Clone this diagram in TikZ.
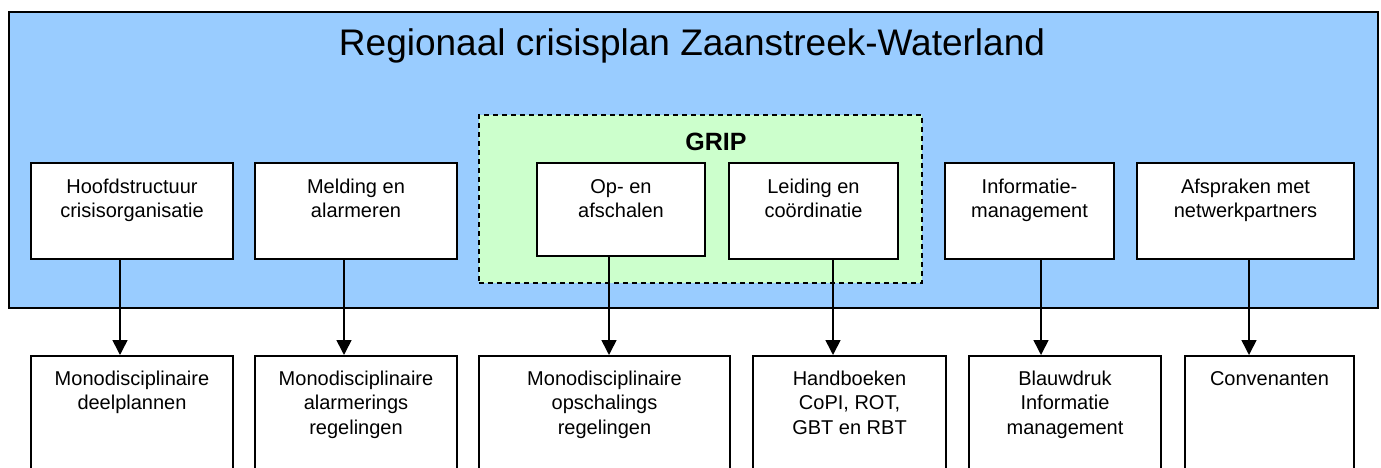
\documentclass[tikz,border=0pt]{standalone}
\usepackage{fontspec}
\setmainfont{Liberation Sans}
\usetikzlibrary{arrows.meta,calc}
\definecolor{planblue}{RGB}{153,204,255}
\definecolor{gripgreen}{RGB}{204,255,204}
\begin{document}
\begin{tikzpicture}[x=1pt,y=-1pt,
  box/.style={draw=black,line width=2pt,fill=white,rectangle,inner sep=0pt,anchor=north west},
  txt/.style={align=center,font=\fontsize{20}{24.5}\selectfont,inner sep=0pt,anchor=base},
  arr/.style={line width=1.6pt,-{Triangle[length=15pt,width=15pt]}},
]
\useasboundingbox (0,0) rectangle (1381,468);
\clip (0,0) rectangle (1381,468);
% outer plan
\node[box,fill=planblue,minimum width=1369pt,minimum height=296pt] (plan) at (8,11) {};
\node[inner sep=0pt,anchor=base,font=\fontsize{37}{40}\selectfont] (title) at (692,56) {Regionaal crisisplan Zaanstreek-Waterland};
% GRIP
\node[box,fill=gripgreen,dashed,dash pattern=on 5pt off 4pt,line width=1.6pt,minimum width=443pt,minimum height=168pt] (grip) at (478,114) {};
\node[inner sep=0pt,anchor=base,font=\fontsize{25}{28}\selectfont\bfseries] (griplabel) at (716,150) {GRIP};
% top boxes
\node[box,minimum width=202pt,minimum height=96pt] (t1) at (30,162) {};
\node[box,minimum width=202pt,minimum height=96pt] (t2) at (254,162) {};
\node[box,minimum width=168pt,minimum height=93pt] (t3) at (536,162) {};
\node[box,minimum width=169pt,minimum height=96pt] (t4) at (728,162) {};
\node[box,minimum width=169pt,minimum height=96pt] (t5) at (944,162) {};
\node[box,minimum width=217pt,minimum height=96pt] (t6) at (1136,162) {};
% base anchor = baseline of last line
\node[txt] (t1l) at ($(t1.north)+(0,55.5)$) {Hoofdstructuur\\crisisorganisatie};
\node[txt] (t2l) at ($(t2.north)+(0,55.5)$) {Melding en\\alarmeren};
\node[txt] (t3l) at ($(t3.north)+(0,55.5)$) {Op- en\\afschalen};
\node[txt] (t4l) at ($(t4.north)+(0,55.5)$) {Leiding en\\coördinatie};
\node[txt] (t5l) at ($(t5.north)+(0,55.5)$) {Informatie-\\management};
\node[txt] (t6l) at ($(t6.north)+(0,55.5)$) {Afspraken met\\netwerkpartners};
% bottom boxes
\node[box,minimum width=202pt,minimum height=140pt] (b1) at (30,355) {};
\node[box,minimum width=202pt,minimum height=140pt] (b2) at (254,355) {};
\node[box,minimum width=251pt,minimum height=140pt] (b3) at (478,355) {};
\node[box,minimum width=193pt,minimum height=140pt] (b4) at (752,355) {};
\node[box,minimum width=192pt,minimum height=140pt] (b5) at (968,355) {};
\node[box,minimum width=169pt,minimum height=140pt] (b6) at (1184,355) {};
\node[txt] (b1l) at ($(b1.north)+(0,54.5)$) {Monodisciplinaire\\deelplannen};
\node[txt] (b2l) at ($(b2.north)+(0,79)$) {Monodisciplinaire\\alarmerings\\regelingen};
\node[txt] (b3l) at ($(b3.north)+(0,79)$) {Monodisciplinaire\\opschalings\\regelingen};
\node[txt] (b4l) at ($(b4.north)+(0,79)$) {Handboeken\\CoPI, ROT,\\GBT en RBT};
\node[txt] (b5l) at ($(b5.north)+(0,79)$) {Blauwdruk\\Informatie\\management};
\node[txt] (b6l) at ($(b6.north)+(0,30)$) {Convenanten};
% arrows
\draw[arr] ([xshift=-12pt]t1.south) -- ([xshift=-12pt]t1.south |- b1.north);
\draw[arr] ([xshift=-12pt]t2.south) -- ([xshift=-12pt]t2.south |- b2.north);
\draw[arr] ([xshift=-12pt]t3.south) -- ([xshift=-12pt]t3.south |- b3.north);
\draw[arr] ([xshift=19.5pt]t4.south) -- ([xshift=19.5pt]t4.south |- b4.north);
\draw[arr] ([xshift=11.5pt]t5.south) -- ([xshift=11.5pt]t5.south |- b5.north);
\draw[arr] ([xshift=3.5pt]t6.south) -- ([xshift=3.5pt]t6.south |- b6.north);
\end{tikzpicture}
\end{document}
